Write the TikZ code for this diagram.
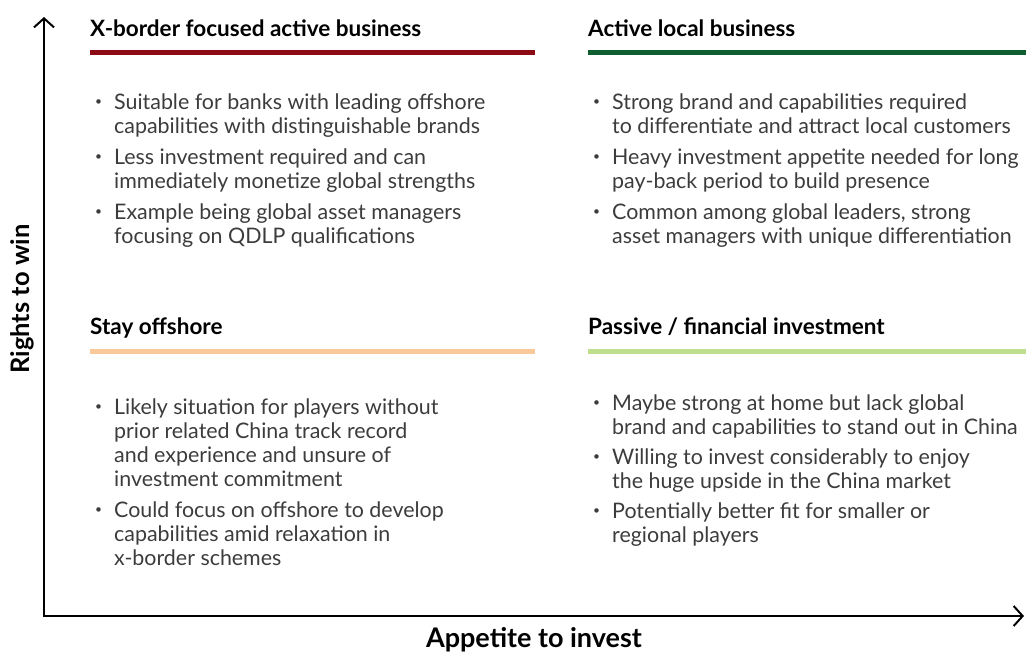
\documentclass[tikz,border=0pt]{standalone}
\usepackage{fontspec}
\setmainfont{Lato}
\usepackage{xcolor}
\usetikzlibrary{arrows.meta}
\definecolor{xborderred}{HTML}{8B0A14}
\definecolor{localgreen}{HTML}{0E5E2F}
\definecolor{offshorepeach}{HTML}{FAC899}
\definecolor{passivegreen}{HTML}{BFDF8F}
\definecolor{bodygray}{HTML}{3C3C3C}
% small raised bullet hanging left of the item text
\newcommand{\bul}{\makebox[0pt][r]{\raisebox{4pt}{\fontsize{12}{12}\selectfont\textbullet}\hspace{12pt}}}

\begin{document}
\begin{tikzpicture}[x=1pt,y=-1pt,
    head/.style={anchor=base west, inner sep=0pt, font=\bfseries\fontsize{22.5}{26}\selectfont},
    % items are anchored at the baseline of their last line
    item/.style={anchor=base west, align=left, inner sep=0pt, text=bodygray, font=\fontsize{21.4}{24}\selectfont},
    bar/.style={line width=5pt},
    axis/.style={line width=2pt, {Straight Barb[length=9pt,width=20pt]}-{Straight Barb[length=9pt,width=20pt]}},
    axislabel/.style={inner sep=0pt, font=\bfseries\fontsize{25.5}{30}\selectfont}]
    \useasboundingbox (0,0) rectangle (1026,654);

    % axes
    \coordinate (ytip) at (44,17);
    \coordinate (xtip) at (1024,616);
    \draw[axis] (ytip) |- (xtip);
    \node[axislabel, rotate=90] (rights) at (22,299) {Rights to win};
    \node[axislabel, font=\bfseries\fontsize{27}{30}\selectfont] (appetite) at (534,640) {Appetite to invest};

    % quadrant headings and bars
    \node[head] (xborder) at (90,36) {X-border focused active business};
    \node[head] (local) at (588,36) {Active local business};
    \node[head] (offshore) at (90,334) {Stay offshore};
    \node[head] (passive) at (588,334) {Passive / financial investment};
    \draw[bar, xborderred] (90,52) -- (535,52);
    \draw[bar, localgreen] (588,52) -- (1026,52);
    \draw[bar, offshorepeach] (90,351) -- (535,351);
    \draw[bar, passivegreen] (588,351) -- (1026,351);

    % top left
    \node[item] (xb1) at (114,133) {\bul Suitable for banks with leading offshore\\capabilities with distinguishable brands};
    \node[item] (xb2) at (114,188) {\bul Less investment required and can\\immediately monetize global strengths};
    \node[item] (xb3) at (114,243) {\bul Example being global asset managers\\focusing on QDLP qualifications};

    % top right
    \node[item] (lo1) at (612,133) {\bul Strong brand and capabilities required\\to differentiate and attract local customers};
    \node[item] (lo2) at (612,188) {\bul Heavy investment appetite needed for long\\pay-back period to build presence};
    \node[item] (lo3) at (612,243) {\bul Common among global leaders, strong\\asset managers with unique differentiation};

    % bottom left
    \node[item] (of1) at (114,486) {\bul Likely situation for players without\\prior related China track record\\and experience and unsure of\\investment commitment};
    \node[item] (of2) at (114,565) {\bul Could focus on offshore to develop\\capabilities amid relaxation in\\x-border schemes};

    % bottom right
    \node[item] (pa1) at (612,434) {\bul Maybe strong at home but lack global\\brand and capabilities to stand out in China};
    \node[item] (pa2) at (612,488) {\bul Willing to invest considerably to enjoy\\the huge upside in the China market};
    \node[item] (pa3) at (612,542) {\bul Potentially better fit for smaller or\\regional players};
\end{tikzpicture}
\end{document}
